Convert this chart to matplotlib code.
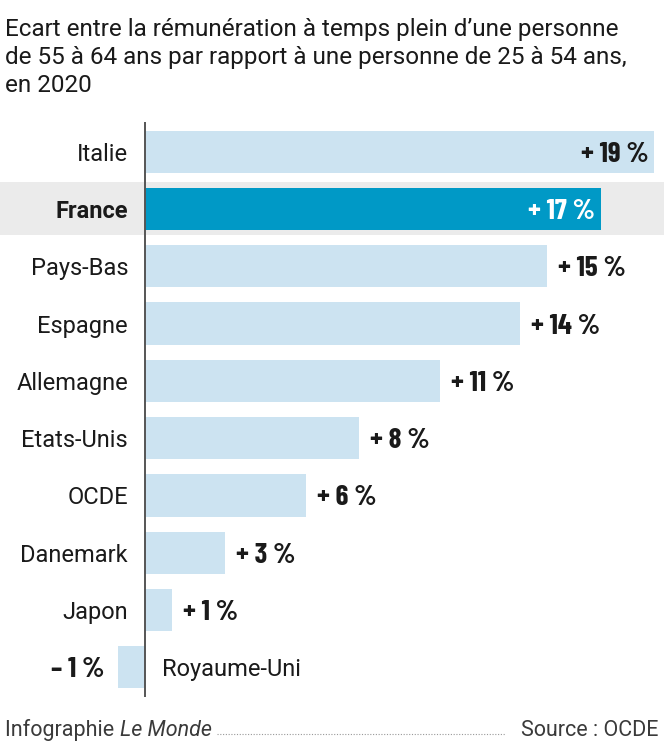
import matplotlib
matplotlib.use('Agg')
import matplotlib.pyplot as plt
from matplotlib import font_manager as fm
from matplotlib.lines import Line2D

title = ("Ecart entre la rémunération à temps plein d’une personne\n"
         "de 55 à 64 ans par rapport à une personne de 25 à 54 ans,\n"
         "en 2020")
countries = ["Italie", "France", "Pays-Bas", "Espagne", "Allemagne",
             "Etats-Unis", "OCDE", "Danemark", "Japon", "Royaume-Uni"]
values = [19, 17, 15, 14, 11, 8, 6, 3, 1, -1]
highlight = "France"
source_left = "Infographie "
source_left_it = "Le Monde"
source_right = "Source : OCDE"

avail = {f.name for f in fm.fontManager.ttflist}
narrow = 'Barlow Condensed' if 'Barlow Condensed' in avail else 'Roboto'
base = 'Roboto' if 'Roboto' in avail else 'DejaVu Sans'
plt.rcParams['font.family'] = [base, 'DejaVu Sans']
VAL = [narrow, 'DejaVu Sans']

W, H = 664, 751
fig = plt.figure(figsize=(W / 100, H / 100), dpi=100)
ax = fig.add_axes([0, 1 - 697 / H, 1, 575 / H])
ppu = 26.8  # pixels per percentage point
x0 = 145
ax.set_xlim(-x0 / ppu, (W - x0) / ppu)
ax.set_ylim(9.515, -0.515)
ax.axis('off')

light = '#cce3f1'
dark = '#0099c6'
txt = '#1a1a1a'
LFS = 17
VFS = 21

for i, (c, v) in enumerate(zip(countries, values)):
    hl = (c == highlight)
    if hl:
        ax.axhspan(i - 0.462, i + 0.462, xmin=0, xmax=1, color='#ebebeb', zorder=0, lw=0)
    ax.barh(i, v, height=0.733, color=dark if hl else light, zorder=2, lw=0)
    sign = '+' if v > 0 else '–'
    lab = f"{sign}\u2009{abs(v)}\u2009%"
    if v < 0:
        ax.text(v - 14 / ppu, i, lab, ha='right', va='center_baseline', fontsize=VFS,
                fontweight='bold', family=VAL, color=txt)
        ax.text(17 / ppu, i, c, ha='left', va='center_baseline', fontsize=LFS, color=txt)
    else:
        ax.text(-17 / ppu, i, c, ha='right', va='center_baseline', fontsize=LFS,
                fontweight='bold' if hl else 'normal', color=txt)
        if v >= 17:
            ax.text(v - 6 / ppu, i, lab, ha='right', va='center_baseline', fontsize=VFS,
                    fontweight='bold', family=VAL,
                    color='white' if hl else txt)
        else:
            ax.text(v + 11 / ppu, i, lab, ha='left', va='center_baseline', fontsize=VFS,
                    fontweight='bold', family=VAL, color=txt)

ax.axvline(0, color='#555555', lw=1.4, zorder=3)

fig.text(5 / W, 1 - 92 / H, title, ha='left', va='baseline', fontsize=17.5,
         color=txt, linespacing=1.27)

fy = 1 - 736 / H
FFS = 15.5
fcol = '#3a3a3a'
t1 = fig.text(5 / W, fy, source_left, ha='left', va='baseline', fontsize=FFS, color=fcol)
fig.canvas.draw()
r = fig.canvas.get_renderer()
bb = t1.get_window_extent(r)
t2 = fig.text(bb.x1 / W, fy, source_left_it, ha='left', va='baseline', fontsize=FFS,
              style='italic', color=fcol)
t3 = fig.text(658 / W, fy, source_right, ha='right', va='baseline', fontsize=FFS, color=fcol)
fig.canvas.draw()
b2 = t2.get_window_extent(r)
b3 = t3.get_window_extent(r)
fig.add_artist(Line2D([(b2.x1 + 6) / W, (b3.x0 - 16) / W], [fy + 2 / H, fy + 2 / H],
                      transform=fig.transFigure, color='#999999', lw=0.8,
                      linestyle=(0, (1, 1.5))))

fig.savefig('out.png', dpi=100)
